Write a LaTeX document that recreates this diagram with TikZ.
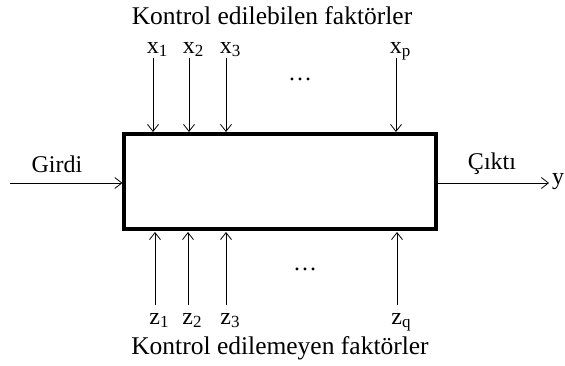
\documentclass[tikz,border=0pt]{standalone}
\usepackage{fontspec}
\setmainfont{Liberation Serif}
\usetikzlibrary{arrows.meta}
\newcommand{\sbs}[2]{#1\raisebox{-0.3ex}{\fontsize{17}{17}\selectfont #2}}
\begin{document}
\begin{tikzpicture}[x=1pt,y=-1pt,
  arr/.style={-{Straight Barb[length=7pt,width=11pt]},line width=0.8pt},
  lbl/.style={font=\fontsize{24}{26}\selectfont,inner sep=0pt},
  ttl/.style={font=\fontsize{25.5}{27}\selectfont,inner sep=0pt}]
\useasboundingbox (0,0) rectangle (565,365);
\node[draw,line width=3.2pt,minimum width=312pt,minimum height=95pt,inner sep=0pt] (box) at (280,181.5) {};
\node[ttl] (t1) at (272,16) {Kontrol edilebilen faktörler};
\node[ttl] (t2) at (280,348) {Kontrol edilemeyen faktörler};
% top
\foreach \i/\xx/\lab in {1/153/\sbs{x}{1},2/189/\sbs{x}{2},3/226/\sbs{x}{3},p/396/\sbs{x}{p}}{
  \node[lbl,anchor=base] (x\i) at (\xx+4,53) {\lab};
  \coordinate (xs\i) at (\xx,58);
  \coordinate (xe\i) at (\xx,132);
  \draw[arr] (xs\i) -- (xe\i);
}
\node[lbl] (d1) at (300,79) {\dots};
% bottom
\foreach \i/\xx/\lab in {1/155/\sbs{z}{1},2/188/\sbs{z}{2},3/226/\sbs{z}{3},q/397/\sbs{z}{q}}{
  \node[lbl,anchor=base] (z\i) at (\xx+4,324) {\lab};
  \coordinate (zs\i) at (\xx,305);
  \coordinate (ze\i) at (\xx,232);
  \draw[arr] (zs\i) -- (ze\i);
}
\node[lbl] (d2) at (305,269) {\dots};
% input / output
\coordinate (in) at (10,183);
\draw[arr] (in) -- (box.west |- in);
\node[lbl] (girdi) at (57,164) {Girdi};
\coordinate (out) at (549,183);
\draw[arr] (box.east |- out) -- (out);
\node[lbl] (cikti) at (492,164) {Çıktı};
\node[lbl,anchor=west] (y) at (552,182) {y};
\end{tikzpicture}
\end{document}
